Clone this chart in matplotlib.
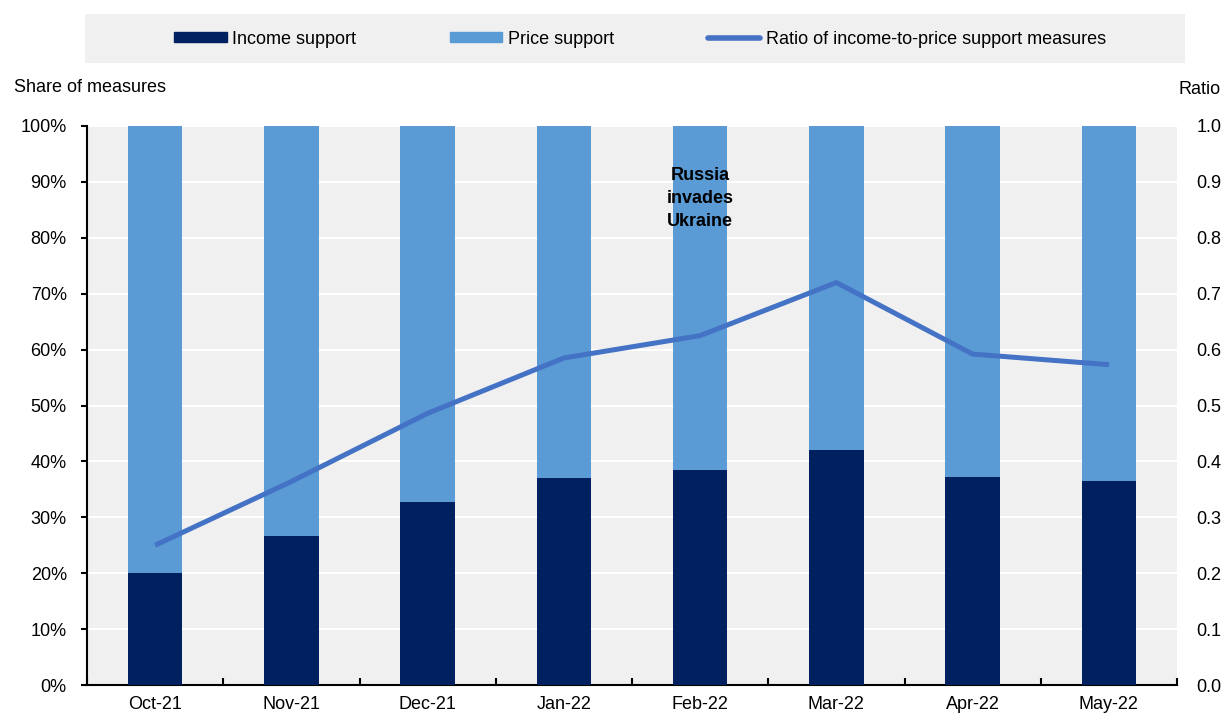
import matplotlib
matplotlib.use("Agg")
import matplotlib.pyplot as plt
import matplotlib.font_manager as fm
from matplotlib.patches import Rectangle
from matplotlib.lines import Line2D
import numpy as np

months = ["Oct-21", "Nov-21", "Dec-21", "Jan-22", "Feb-22", "Mar-22", "Apr-22", "May-22"]
income_share = [20.0, 26.7, 32.7, 37.0, 38.5, 42.0, 37.2, 36.5]
price_share = [100 - v for v in income_share]
ratio = [0.25, 0.364, 0.486, 0.585, 0.625, 0.72, 0.592, 0.573]
left_ticks = [0, 10, 20, 30, 40, 50, 60, 70, 80, 90, 100]
right_ticks = [0.0, 0.1, 0.2, 0.3, 0.4, 0.5, 0.6, 0.7, 0.8, 0.9, 1.0]

names = {f.name for f in fm.fontManager.ttflist}
fam = "Liberation Sans Narrow" if "Liberation Sans Narrow" in names else "Liberation Sans"
plt.rcParams['font.family'] = [fam, 'DejaVu Sans']

DARK = "#002060"
LIGHT = "#5B9BD5"
LINE = "#4472C4"
BG = "#F0F0F0"

fig = plt.figure(figsize=(12.25, 7.13), dpi=100)
ax = fig.add_axes([87/1225, 1 - 685/713, (1177-87)/1225, (685-126)/713])
ax.set_facecolor(BG)
x = np.arange(len(months))
ax.bar(x, income_share, width=0.4, color=DARK, zorder=3)
ax.bar(x, price_share, width=0.4, bottom=income_share, color=LIGHT, zorder=3)
ax.set_xlim(-0.5, len(months) - 0.5)
ax.set_ylim(0, 100)
ax.set_yticks(left_ticks)
ax.set_yticklabels([f"{t}%" for t in left_ticks])
ax.yaxis.grid(True, color="white", linewidth=1.5, zorder=1)
ax.set_axisbelow(True)
ax.set_xticks(x)
ax.set_xticklabels(months)
ax.tick_params(axis="x", which="major", length=0, labelsize=13, pad=8)
ax.set_xticks(np.arange(-0.5, len(months)), minor=True)
ax.tick_params(axis="x", which="minor", direction="in", length=5, width=1.5)
ax.tick_params(axis="y", direction="out", length=4.5, width=1.5, labelsize=13, pad=10)
for s in ["top", "right"]:
    ax.spines[s].set_visible(False)
ax.spines["left"].set_linewidth(1.5)
ax.spines["bottom"].set_linewidth(1.5)

ax2 = ax.twinx()
ax2.plot(x, ratio, color=LINE, linewidth=3.6, zorder=5, solid_capstyle="butt")
ax2.set_ylim(0, 1.0)
ax2.set_yticks(right_ticks)
ax2.set_yticklabels([f"{t:.1f}" for t in right_ticks])
ax2.tick_params(axis="y", length=0, labelsize=13, pad=14)
for s in ax2.spines.values():
    s.set_visible(False)

ax.text(4, 87, "Russia\ninvades\nUkraine", ha="center", va="center",
        fontsize=13, fontweight="bold", linespacing=1.45, zorder=6)

fig.text(14/1225, 1 - 87/713, "Share of measures", ha="left", va="center", fontsize=13)
fig.text(1221/1225, 1 - 89/713, "Ratio", ha="right", va="center", fontsize=13)

fig.patches.append(Rectangle((85/1225, 1 - 63/713), (1185-85)/1225, (63-14)/713,
                             transform=fig.transFigure, facecolor=BG, edgecolor="none", zorder=0))
handles = [Rectangle((0, 0), 1, 1, color=DARK), Rectangle((0, 0), 1, 1, color=LIGHT),
           Line2D([0], [0], color=LINE, linewidth=4, solid_capstyle="round")]
labels = ["Income support", "Price support", "Ratio of income-to-price support measures"]
fig.legend(handles, labels, ncol=3, loc="center", bbox_to_anchor=(640/1225, 1 - 39/713),
           frameon=False, fontsize=13, handlelength=2.9, handleheight=0.45,
           handletextpad=0.3, columnspacing=5.2)

fig.savefig("out.png", dpi=100)
